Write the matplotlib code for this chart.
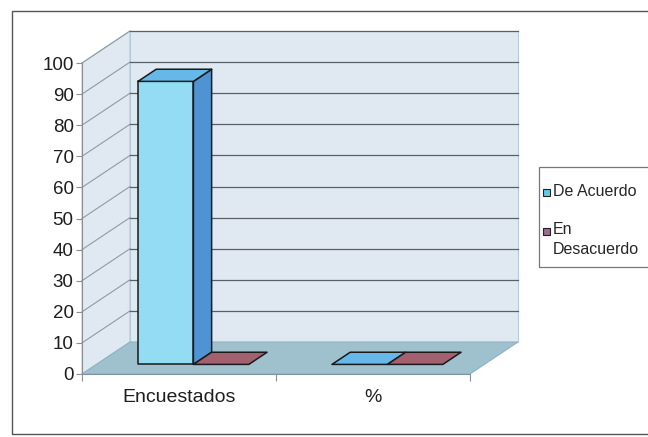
import matplotlib
matplotlib.use("Agg")
import matplotlib.pyplot as plt
from matplotlib.patches import Polygon, Rectangle

plt.rcParams['font.family'] = ['Liberation Sans', 'DejaVu Sans']

# datos de la encuesta
categorias = ['Encuestados', '%']
series = ['De Acuerdo', 'En\nDesacuerdo']
de_acuerdo = [91, 0]
en_desacuerdo = [0, 0]
valores = [de_acuerdo, en_desacuerdo]
yticks = list(range(0, 101, 10))

# colores de cada serie: frente, lado, tapa, leyenda
colores = [
    dict(front='#93dcf3', side='#4f93d3', top='#66b8e8', key='#5ccbec'),
    dict(front='#b4707e', side='#8a4c5a', top='#a3606f', key='#9a6c8e'),
]

W, H = 648, 437
PX_PER_UNIT = 3.11      # pixeles por unidad del eje vertical
Y0_PX = 374             # pixel del valor 0 en el plano frontal
X0 = 82                 # borde izquierdo del plano frontal
CAT_W = 194             # ancho de cada categoria
DX, DY = 48, 32 / PX_PER_UNIT   # desplazamiento de profundidad
D0, D1 = 0.30, 0.68     # profundidad de las barras


def P(x, v, d):
    return (x + d * DX, v + d * DY)


def py(ypx):
    return (Y0_PX - ypx) / PX_PER_UNIT


fig = plt.figure(figsize=(W / 100, H / 100), dpi=100)
ax = fig.add_axes([0, 0, 1, 1])
ax.set_xlim(0, W)
ax.set_ylim(py(H), py(0))

# marco exterior
ax.add_patch(Rectangle((12, py(434)), 700, py(11) - py(434), fill=False,
                       edgecolor='#555555', lw=1.0, zorder=0))

x_end = X0 + CAT_W * len(categorias)
vmax = yticks[-1]

# paredes y piso
pared = '#e0e9f1'
borde = '#b3cddb'
ax.add_patch(Polygon([P(X0, 0, 0), P(X0, vmax, 0), P(X0, vmax, 1), P(X0, 0, 1)],
                     facecolor=pared, edgecolor=borde, lw=0.8, zorder=1))
ax.add_patch(Polygon([P(X0, 0, 1), P(x_end, 0, 1), P(x_end, vmax, 1), P(X0, vmax, 1)],
                     facecolor=pared, edgecolor=borde, lw=0.8, zorder=1))

for v in yticks[1:]:
    a, b = P(X0, v, 0), P(X0, v, 1)
    ax.plot([a[0], b[0]], [a[1], b[1]], color='#8d9ba6', lw=0.8, zorder=2)
    c = P(x_end, v, 1)
    ax.plot([b[0], c[0]], [b[1], c[1]], color='#5a5f66', lw=0.9, zorder=2)

ax.add_patch(Polygon([P(X0, 0, 0), P(x_end, 0, 0), P(x_end, 0, 1), P(X0, 0, 1)],
                     facecolor='#9fc0cd', edgecolor='#8fb3c2', lw=0.8, zorder=3))

# barras
bw = CAT_W / 3.5
gap = 1.5 * bw
z = 4
for c in range(len(categorias)):
    for s, vals in enumerate(valores):
        v = vals[c]
        col = colores[s]
        xl = X0 + c * CAT_W + gap / 2 + s * bw
        xr = xl + bw
        kw = dict(edgecolor='#1a1a1a', lw=1.1, joinstyle='round')
        if v > 0:
            ax.add_patch(Polygon([P(xr, 0, D0), P(xr, 0, D1), P(xr, v, D1), P(xr, v, D0)],
                                 facecolor=col['side'], zorder=z, **kw))
            ax.add_patch(Polygon([P(xl, 0, D0), P(xr, 0, D0), P(xr, v, D0), P(xl, v, D0)],
                                 facecolor=col['front'], zorder=z + 1, **kw))
        ax.add_patch(Polygon([P(xl, v, D0), P(xr, v, D0), P(xr, v, D1), P(xl, v, D1)],
                             facecolor=col['top'], zorder=z + 1, **kw))
        z += 2

# ejes
for side in ['top', 'right']:
    ax.spines[side].set_visible(False)
ax.spines['left'].set_position(('data', X0))
ax.spines['left'].set_bounds(0, vmax)
ax.spines['left'].set_color('#8a8f96')
ax.spines['bottom'].set_position(('data', 0))
ax.spines['bottom'].set_bounds(X0, x_end)
ax.spines['bottom'].set_color('#7d95a3')
ax.spines['left'].set_zorder(3.5)
ax.spines['bottom'].set_zorder(3.5)

ax.set_yticks(yticks)
ax.tick_params(axis='y', length=4, width=0.8, color='#8a8f96', pad=2,
               labelsize=13.5, labelcolor='#1e1e1e')

centros = [X0 + CAT_W * (i + 0.5) for i in range(len(categorias))]
ax.set_xticks(centros, categorias)
ax.set_xticks([X0 + CAT_W * i for i in range(len(categorias) + 1)], minor=True)
ax.tick_params(axis='x', which='major', length=0, pad=11, labelsize=14,
               labelcolor='#1e1e1e')
ax.tick_params(axis='x', which='minor', length=5, width=0.8, color='#8a8f96')

# leyenda
def fx(x):
    return x / W


def fy(y):
    return 1 - y / H


fig.patches.append(Rectangle((fx(539), fy(267)), fx(200), fy(167) - fy(267),
                             transform=fig.transFigure, fill=False,
                             edgecolor='#777777', lw=0.9))
ley_y = [192, 231]
for s, nombre in enumerate(series):
    y = ley_y[s]
    fig.patches.append(Rectangle((fx(543), fy(y + 3.5)), fx(7), fy(0) - fy(7),
                                 transform=fig.transFigure,
                                 facecolor=colores[s]['key'], edgecolor='#222222',
                                 lw=0.8))
    fig.text(fx(553), fy(y) + (fy(0) - fy(9)) * ('\n' in nombre), nombre,
             transform=fig.transFigure, ha='left',
             va='top' if '\n' in nombre else 'center', fontsize=11.5,
             color='#262626', linespacing=1.45)

fig.savefig('out.png', dpi=100, facecolor='white')
